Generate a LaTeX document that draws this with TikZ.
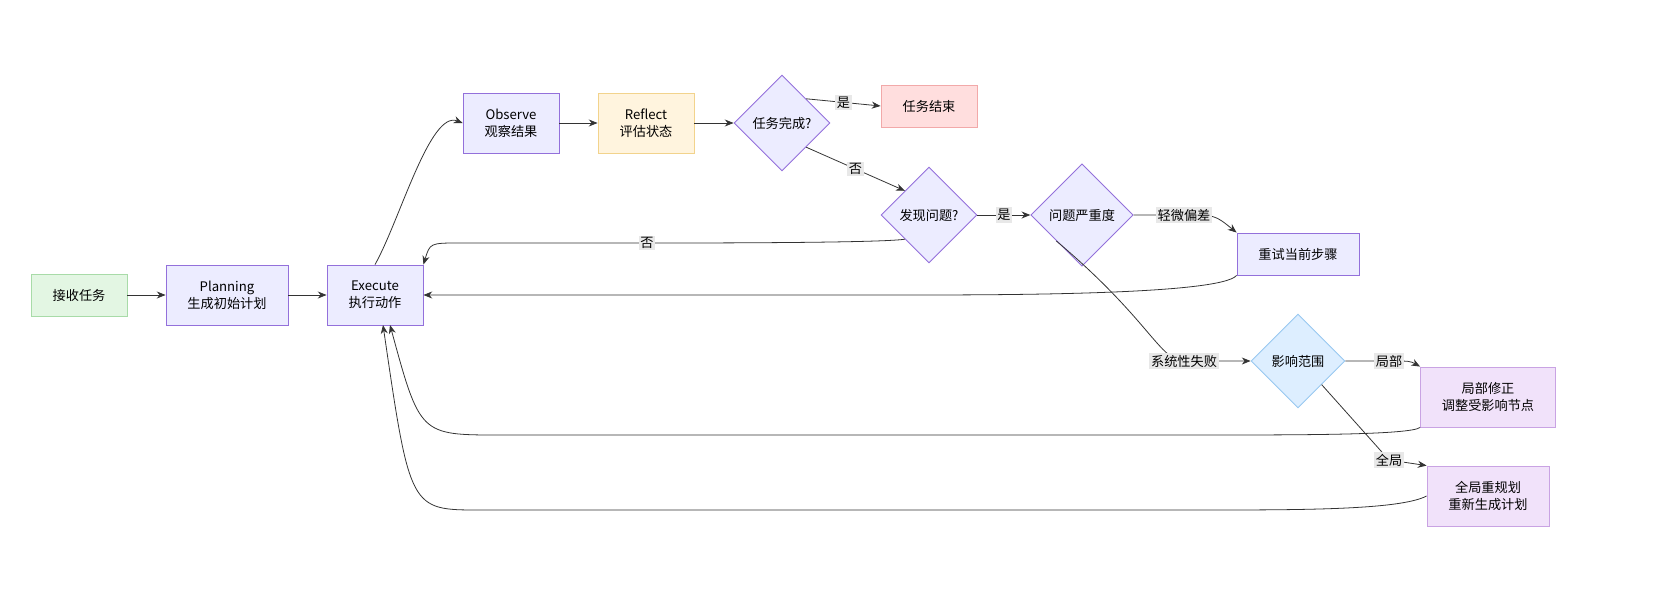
\documentclass[tikz,border=0pt]{standalone}
\usepackage{fontspec}
\setmainfont{Noto Sans CJK SC}
\usetikzlibrary{shapes.geometric,arrows.meta,positioning}
\definecolor{boxfill}{HTML}{ECECFF}
\definecolor{boxline}{HTML}{9370DB}
\definecolor{startfill}{HTML}{E3F6E3}
\definecolor{startline}{HTML}{A8DBA8}
\definecolor{evalfill}{HTML}{FFF4DE}
\definecolor{evalline}{HTML}{F2D38C}
\definecolor{endfill}{HTML}{FFDEDE}
\definecolor{endline}{HTML}{F2A9A9}
\definecolor{scopefill}{HTML}{DDEEFF}
\definecolor{scopeline}{HTML}{98C8F0}
\definecolor{fixfill}{HTML}{F1E2FA}
\definecolor{fixline}{HTML}{C9A3E3}
\definecolor{edgecol}{HTML}{333333}
\definecolor{tagfill}{HTML}{E8E8E8}
\begin{document}
\begin{tikzpicture}[
        x=0.02cm, y=-0.02cm,
        font=\fontsize{7.5}{9.5}\selectfont,
        step/.style={rectangle, draw=#1line, fill=#1fill, align=center, minimum width=1.92cm, minimum height=1.2cm, inner sep=2pt, line width=0.5pt},
        step/.default=box,
        check/.style={diamond, draw=#1line, fill=#1fill, align=center, minimum width=1.92cm, minimum height=1.92cm, inner sep=0pt, line width=0.5pt},
        check/.default=box,
        flow/.style={draw=edgecol, line width=0.45pt, -{Stealth[length=5pt,width=4pt]}},
        tag/.style={fill=tagfill, inner sep=1pt, font=\fontsize{7.5}{9.5}\selectfont},
    ]
        % main line
        \node[step=start, minimum width=1.92cm, minimum height=0.84cm] (recv) at (79,295) {接收任务};
        \node[step, minimum width=2.44cm] (plan) at (227,295) {Planning\\生成初始计划};
        \node[step] (exec) at (375,295) {Execute\\执行动作};
        \node[step] (obs) at (511,123) {Observe\\观察结果};
        \node[step=eval] (refl) at (646,123) {Reflect\\评估状态};
        \node[check] (done) at (782,123) {任务完成?};
        \node[step=end, minimum height=0.84cm] (finish) at (929,106) {任务结束};
        \node[check] (issue) at (929,215) {发现问题?};
        \node[check, minimum width=2.05cm, minimum height=2.05cm] (sev) at (1082,215) {问题严重度};
        \node[step, minimum width=2.44cm, minimum height=0.84cm] (retry) at (1298,254) {重试当前步骤};
        \node[check=scope, minimum width=1.88cm, minimum height=1.88cm] (scope) at (1298,361) {影响范围};
        \node[step=fix, minimum width=2.7cm] (local) at (1488,397) {局部修正\\调整受影响节点};
        \node[step=fix, minimum width=2.44cm] (global) at (1488,496) {全局重规划\\重新生成计划};

        % forward edges
        \draw[flow] (recv) -- (plan);
        \draw[flow] (plan) -- (exec);
        \draw[flow] (exec.north) .. controls (400,220) and (430,110) .. (obs.west);
        \draw[flow] (obs) -- (refl);
        \draw[flow] (refl) -- (done);
        \draw[flow] (done.north east) -- node[tag] {是} (finish.west);
        \draw[flow] (done.south east) -- node[tag] {否} (issue.north west);
        \draw[flow] (issue) -- node[tag] {是} (sev);
        \draw[flow] (sev.east) -- (1184,215) node[tag] {轻微偏差} .. controls (1215,215) .. (retry.north west);
        \draw[flow] (sev.south west) .. controls (1150,320) and (1160,361) .. (1184,361) node[tag] {系统性失败} -- (scope.west);
        \draw[flow] (scope.east) -- (1389,361) node[tag] {局部} .. controls (1410,361) .. (local.north west);
        \draw[flow] (scope.south east) -- (1389,460) node[tag] {全局} -- (global.north west);

        % back edges
        \draw[flow] (issue.south west) .. controls (880,243) and (700,243) .. (647,243) node[tag] {否}
            -- (460,243) .. controls (430,243) .. (exec.north east);
        \draw[flow] (retry.south west) .. controls (1220,295) and (1000,295) .. (900,295) -- (exec.east);
        \draw[flow] (local.south west) .. controls (1410,435) and (1300,435) .. (1200,435)
            -- (500,435) .. controls (420,435) .. (390,325);
        \draw[flow] (global.west) .. controls (1400,510) and (1300,510) .. (1200,510)
            -- (480,510) .. controls (410,510) .. (383,325);
        \pgfresetboundingbox
        \useasboundingbox (0,0) rectangle (1672,612);
    \end{tikzpicture}
\end{document}
